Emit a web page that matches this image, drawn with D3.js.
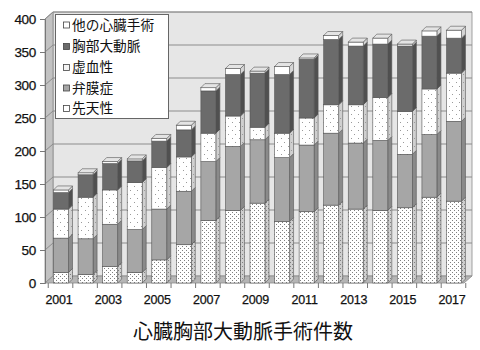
<!DOCTYPE html>
<html><head><meta charset="utf-8">
<script src="https://cdn.jsdelivr.net/npm/d3@7"></script>
<style>body{margin:0;background:#fff;} svg{display:block;}</style>
</head><body>
<script>
// ---- data ----
const years = [2001,2002,2003,2004,2005,2006,2007,2008,2009,2010,2011,2012,2013,2014,2015,2016,2017];
const seriesNames = ["先天性","弁膜症","虚血性","胸部大動脈","他の心臓手術"];
const congenital = [16,13,25,16,35,58,95,110,121,93,108,118,112,110,114,130,124];
const valvular   = [52,54,64,65,77,81,89,97,96,97,101,109,100,106,81,95,121];
const ischemic   = [44,63,52,71,63,52,43,46,19,37,41,43,58,65,65,69,73];
const aorta      = [25,34,40,33,40,41,64,63,82,89,89,99,89,81,99,80,53];
const other      = [4,3,3,3,4,7,5,9,3,12,2,6,6,9,3,8,12];
const yTicks = [0,50,100,150,200,250,300,350,400];
const xTickLabels = [2001,2003,2005,2007,2009,2011,2013,2015,2017];
const title = "心臓胸部大動脈手術件数";

// ---- setup ----
const W = 480, H = 350;
const svg = d3.select("body").append("svg").attr("width", W).attr("height", H);
const defs = svg.append("defs");

function dotPattern(id, bg, dot, w, h, pts) {
  const p = defs.append("pattern").attr("id", id).attr("patternUnits", "userSpaceOnUse")
    .attr("width", w).attr("height", h);
  p.append("rect").attr("width", w).attr("height", h).attr("fill", bg);
  pts.forEach(([x, y]) => p.append("rect").attr("x", x).attr("y", y).attr("width", 1).attr("height", 1).attr("fill", dot));
}
dotPattern("congF", "#ffffff", "#808080", 4, 4, [[0,0],[2,2]]);
dotPattern("congS", "#cfcfcf", "#808080", 4, 4, [[0,0],[2,2]]);
dotPattern("ischF", "#ffffff", "#9a9a9a", 7, 8, [[1,2],[4,6]]);
dotPattern("ischS", "#d0d0d0", "#9a9a9a", 7, 8, [[1,2],[4,6]]);

const frontFill = ["url(#congF)", "#a6a6a6", "url(#ischF)", "#6b6b6b", "#ffffff"];
const sideFill  = ["url(#congS)", "#8a8a8a", "url(#ischS)", "#505050", "#d6d6d6"];
const legendFill = ["#ffffff", "#a6a6a6", "#f4f4f4", "#6b6b6b", "#ffffff"];

const y = d3.scaleLinear().domain([0, 400]).range([283, 19]);
const x = d3.scaleBand().domain(years).range([48, 467]).paddingInner(0.39).paddingOuter(0.225);

const wdx = 8, wdy = -7;   // wall depth
const bdx = 4, bdy = -4;   // bar depth
const x0 = 45, xR = 464;
const line = d3.line();

// ---- walls ----
svg.append("path").attr("d", line([[x0+wdx, y(400)+wdy],[xR+wdx, y(400)+wdy],[xR+wdx, y(0)+wdy],[x0+wdx, y(0)+wdy]]) + "Z")
  .attr("fill", "#e6e6e6").attr("stroke", "#8a8a8a").attr("stroke-width", 0.8);
svg.append("path").attr("d", line([[x0, y(400)],[x0+wdx, y(400)+wdy],[x0+wdx, y(0)+wdy],[x0, y(0)]]) + "Z")
  .attr("fill", "#c2c2c2").attr("stroke", "#8a8a8a").attr("stroke-width", 0.8);
svg.append("path").attr("d", line([[x0, y(0)],[x0+wdx, y(0)+wdy],[xR+wdx, y(0)+wdy],[xR, y(0)]]) + "Z")
  .attr("fill", "#b5b5b5").attr("stroke", "#8a8a8a").attr("stroke-width", 0.8);

// gridlines
const grid = svg.append("g").attr("stroke", "#8c8c8c").attr("stroke-width", 1).attr("fill", "none");
yTicks.filter(v => v > 0).forEach(v => {
  grid.append("path").attr("d", line([[x0, y(v)],[x0+wdx, y(v)+wdy],[xR+wdx, y(v)+wdy]]));
});

// y axis
const yAxis = svg.append("g").attr("transform", `translate(${x0},0)`)
  .call(d3.axisLeft(y).tickValues(yTicks).tickSize(5).tickPadding(4));
yAxis.select(".domain").attr("stroke", "#777");
yAxis.selectAll(".tick line").attr("stroke", "#777");
yAxis.selectAll("text").attr("font-family", "Liberation Sans, Arial, sans-serif")
  .attr("font-size", 13.5).attr("fill", "#111").attr("letter-spacing", "-0.3")
  .attr("stroke", "#111").attr("stroke-width", 0.25);

// x axis: ticks at band boundaries, labels for odd years
const xAxis = svg.append("g").attr("transform", `translate(-2,${y(0)})`)
  .call(d3.axisBottom(x).tickSize(0).tickPadding(12)
    .tickFormat(d => xTickLabels.includes(d) ? String(d) : ""));
xAxis.select(".domain").remove();
xAxis.selectAll("text").attr("font-family", "Liberation Sans, Arial, sans-serif")
  .attr("font-size", 12.5).attr("fill", "#111").attr("letter-spacing", "-0.2")
  .attr("stroke", "#111").attr("stroke-width", 0.25);
const tickG = svg.append("g").attr("stroke", "#777");
years.concat([null]).forEach((d, i) => {
  const tx = (d === null) ? x(years[years.length-1]) + x.step() - x.step()*0.39/2 - 0.5 : x(d) - x.step()*0.39/2 - 0.5;
  tickG.append("line").attr("x1", tx).attr("x2", tx).attr("y1", y(0)).attr("y2", y(0) + 5);
});

// ---- bars ----
const rows = years.map((yr, i) => ({
  year: yr, "先天性": congenital[i], "弁膜症": valvular[i], "虚血性": ischemic[i],
  "胸部大動脈": aorta[i], "他の心臓手術": other[i]
}));
const stack = d3.stack().keys(seriesNames)(rows);
const bw = x.bandwidth();
const barsG = svg.append("g");
years.forEach((yr, i) => {
  const g = barsG.append("g");
  const bx = x(yr);
  stack.forEach((s, k) => {
    const [a, b] = s[i];
    if (b - a <= 0) return;
    const yt = y(b), yb = y(a);
    g.append("path").attr("d", line([[bx+bw, yt],[bx+bw+bdx, yt+bdy],[bx+bw+bdx, yb+bdy],[bx+bw, yb]]) + "Z")
      .attr("fill", sideFill[k]).attr("stroke", "#555").attr("stroke-width", 0.6);
    g.append("rect").attr("x", bx).attr("y", yt).attr("width", bw).attr("height", yb - yt)
      .attr("fill", frontFill[k]).attr("stroke", "#555").attr("stroke-width", 0.6);
  });
  const top = stack[stack.length-1][i][1];
  const yt = y(top);
  g.append("path").attr("d", line([[bx, yt],[bx+bdx, yt+bdy],[bx+bw+bdx, yt+bdy],[bx+bw, yt]]) + "Z")
    .attr("fill", "#e4e4e4").attr("stroke", "#555").attr("stroke-width", 0.6);
});

// ---- legend ----
const lg = svg.append("g");
lg.append("rect").attr("x", 55.5).attr("y", 14.5).attr("width", 113).attr("height", 104)
  .attr("fill", "#fff").attr("stroke", "#666").attr("stroke-width", 1);
const legendOrder = [4, 3, 2, 1, 0];
const rowsY = [25, 46.5, 67.5, 88, 108.5];
legendOrder.forEach((k, j) => {
  lg.append("rect").attr("x", 63.5).attr("y", rowsY[j] - 3).attr("width", 6).attr("height", 6)
    .attr("fill", legendFill[k]).attr("stroke", "#444").attr("stroke-width", 0.8);
  lg.append("text").attr("x", 72).attr("y", rowsY[j]).attr("dy", "0.36em")
    .attr("font-family", "Noto Sans CJK JP, sans-serif").attr("font-size", 13.7).attr("fill", "#111")
    .text(seriesNames[k]);
});

// ---- title ----
svg.append("text").attr("x", 243).attr("y", 332).attr("dy", "0.35em").attr("text-anchor", "middle")
  .attr("font-family", "Noto Sans CJK JP, sans-serif").attr("font-size", 20).attr("fill", "#111")
  .text(title);
</script>
</body></html>
